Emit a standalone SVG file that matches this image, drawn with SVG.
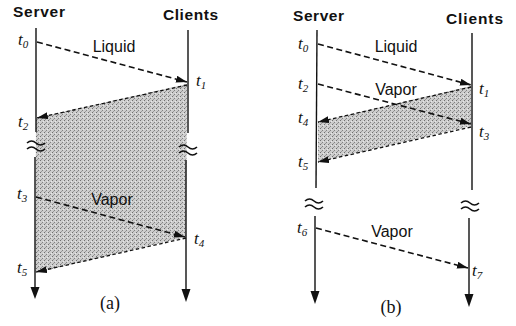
<svg xmlns="http://www.w3.org/2000/svg" width="516" height="326" viewBox="0 0 516 326">
<style>
.hdr{font-family:"Liberation Sans",Arial,sans-serif;font-weight:bold;font-size:15.5px;fill:#111}
.lbl{font-family:"Liberation Sans",Arial,sans-serif;font-size:16px;fill:#111}
.t{font-family:"Liberation Serif","Times New Roman",serif;font-style:italic;font-size:17px;fill:#111}
.sub{font-size:11px}
.cap{font-family:"Liberation Serif","Times New Roman",serif;font-size:18px;fill:#111}
.axis{stroke:#111;stroke-width:1.4;fill:none}
.brk{stroke:#111;stroke-width:1.6;fill:none}
.msg{stroke:#111;stroke-width:1.6;fill:none;stroke-dasharray:6 3.5;marker-end:url(#ah)}
.ret{stroke:#111;stroke-width:1.3;fill:none;stroke-dasharray:3.5 2.5;marker-end:url(#ah)}
.head{fill:#111}
</style>
<defs>
<marker id="ah" viewBox="0 0 11 7" refX="11" refY="3.5" markerWidth="11" markerHeight="7" orient="auto" markerUnits="userSpaceOnUse">
<path d="M0,0 L11,3.5 L0,7 z" fill="#111"/>
</marker>
<pattern id="stip" width="4" height="4" patternUnits="userSpaceOnUse">
<rect width="4" height="4" fill="#cdcdcd"/>
<rect x="0" y="0" width="1" height="1" fill="#707070"/>
<rect x="2" y="2" width="1" height="1" fill="#828282"/>
<rect x="3" y="1" width="1" height="1" fill="#e8e8e8"/>
<rect x="1" y="3" width="1" height="1" fill="#9a9a9a"/>
</pattern>
</defs>
<rect width="516" height="326" fill="#fff"/>

<g id="shading">
<polygon points="187,84 36,118 35,273 186,237" fill="url(#stip)"/>
<polygon points="471,86 318,122 318,162 471,126" fill="url(#stip)"/>
</g>

<g id="server-a">
<text class="hdr" x="13" y="17" textLength="52">Server</text>
<line class="axis" x1="36" y1="28" x2="36" y2="132"/>
<line class="axis" x1="35" y1="157" x2="35" y2="290"/>
<polygon class="head" points="30.5,287 39.5,287 35,299"/>
<path class="brk" d="M27,143 q4.5,-4 9,0 t9,0 M27,149 q4.5,-4 9,0 t9,0"/>
<text class="t" x="18" y="45">t<tspan class="sub" dy="3">0</tspan></text>
<text class="t" x="18" y="127">t<tspan class="sub" dy="3">2</tspan></text>
<text class="t" x="17" y="199">t<tspan class="sub" dy="3">3</tspan></text>
<text class="t" x="17" y="273">t<tspan class="sub" dy="3">5</tspan></text>
</g>

<g id="clients-a">
<text class="hdr" x="163" y="20" textLength="55">Clients</text>
<line class="axis" x1="188" y1="30" x2="188" y2="133"/>
<line class="axis" x1="186" y1="160" x2="186" y2="291"/>
<polygon class="head" points="181.5,289 190.5,289 186,302"/>
<path class="brk" d="M179,147 q4.5,-4 9,0 t9,0 M179,153 q4.5,-4 9,0 t9,0"/>
<text class="t" x="196" y="86">t<tspan class="sub" dy="3">1</tspan></text>
<text class="t" x="194" y="244">t<tspan class="sub" dy="3">4</tspan></text>
</g>

<g id="server-b">
<text class="hdr" x="293" y="21" textLength="51">Server</text>
<line class="axis" x1="317" y1="30" x2="316" y2="188"/>
<line class="axis" x1="315" y1="216" x2="315" y2="293"/>
<polygon class="head" points="310.5,291 319.5,291 315,304"/>
<path class="brk" d="M305,201 q4.5,-4 9,0 t9,0 M305,207 q4.5,-4 9,0 t9,0"/>
<text class="t" x="298" y="49">t<tspan class="sub" dy="3">0</tspan></text>
<text class="t" x="298" y="89">t<tspan class="sub" dy="3">2</tspan></text>
<text class="t" x="298" y="123">t<tspan class="sub" dy="3">4</tspan></text>
<text class="t" x="298" y="167">t<tspan class="sub" dy="3">5</tspan></text>
<text class="t" x="297" y="233">t<tspan class="sub" dy="3">6</tspan></text>
</g>

<g id="clients-b">
<text class="hdr" x="446" y="24" textLength="57">Clients</text>
<line class="axis" x1="472" y1="33" x2="472" y2="190"/>
<line class="axis" x1="469" y1="218" x2="469" y2="295"/>
<polygon class="head" points="464.5,294 473.5,294 469,307"/>
<path class="brk" d="M461,203 q4.5,-4 9,0 t9,0 M461,209 q4.5,-4 9,0 t9,0"/>
<text class="t" x="479" y="94">t<tspan class="sub" dy="3">1</tspan></text>
<text class="t" x="479" y="137">t<tspan class="sub" dy="3">3</tspan></text>
<text class="t" x="472" y="276">t<tspan class="sub" dy="3">7</tspan></text>
</g>

<g id="connectors">
<line class="msg" x1="37" y1="42" x2="187" y2="82"/>
<line class="ret" x1="187" y1="85" x2="37" y2="118"/>
<line class="msg" x1="36" y1="197" x2="185" y2="237"/>
<line class="ret" x1="186" y1="238" x2="36" y2="272"/>
<line class="msg" x1="318" y1="44" x2="471" y2="85"/>
<line class="msg" x1="318" y1="84" x2="471" y2="124"/>
<line class="ret" x1="471" y1="87" x2="318" y2="122"/>
<line class="ret" x1="471" y1="127" x2="318" y2="162"/>
<line class="msg" x1="316" y1="228" x2="468" y2="268"/>
</g>

<g id="labels">
<text class="lbl" x="114" y="52" text-anchor="middle">Liquid</text>
<text class="lbl" x="112" y="205" text-anchor="middle">Vapor</text>
<text class="lbl" x="396" y="52" text-anchor="middle">Liquid</text>
<text class="lbl" x="396" y="95" text-anchor="middle">Vapor</text>
<text class="lbl" x="392" y="237" text-anchor="middle">Vapor</text>
<text class="cap" x="110" y="309" text-anchor="middle">(a)</text>
<text class="cap" x="391" y="313" text-anchor="middle">(b)</text>
</g>
</svg>
